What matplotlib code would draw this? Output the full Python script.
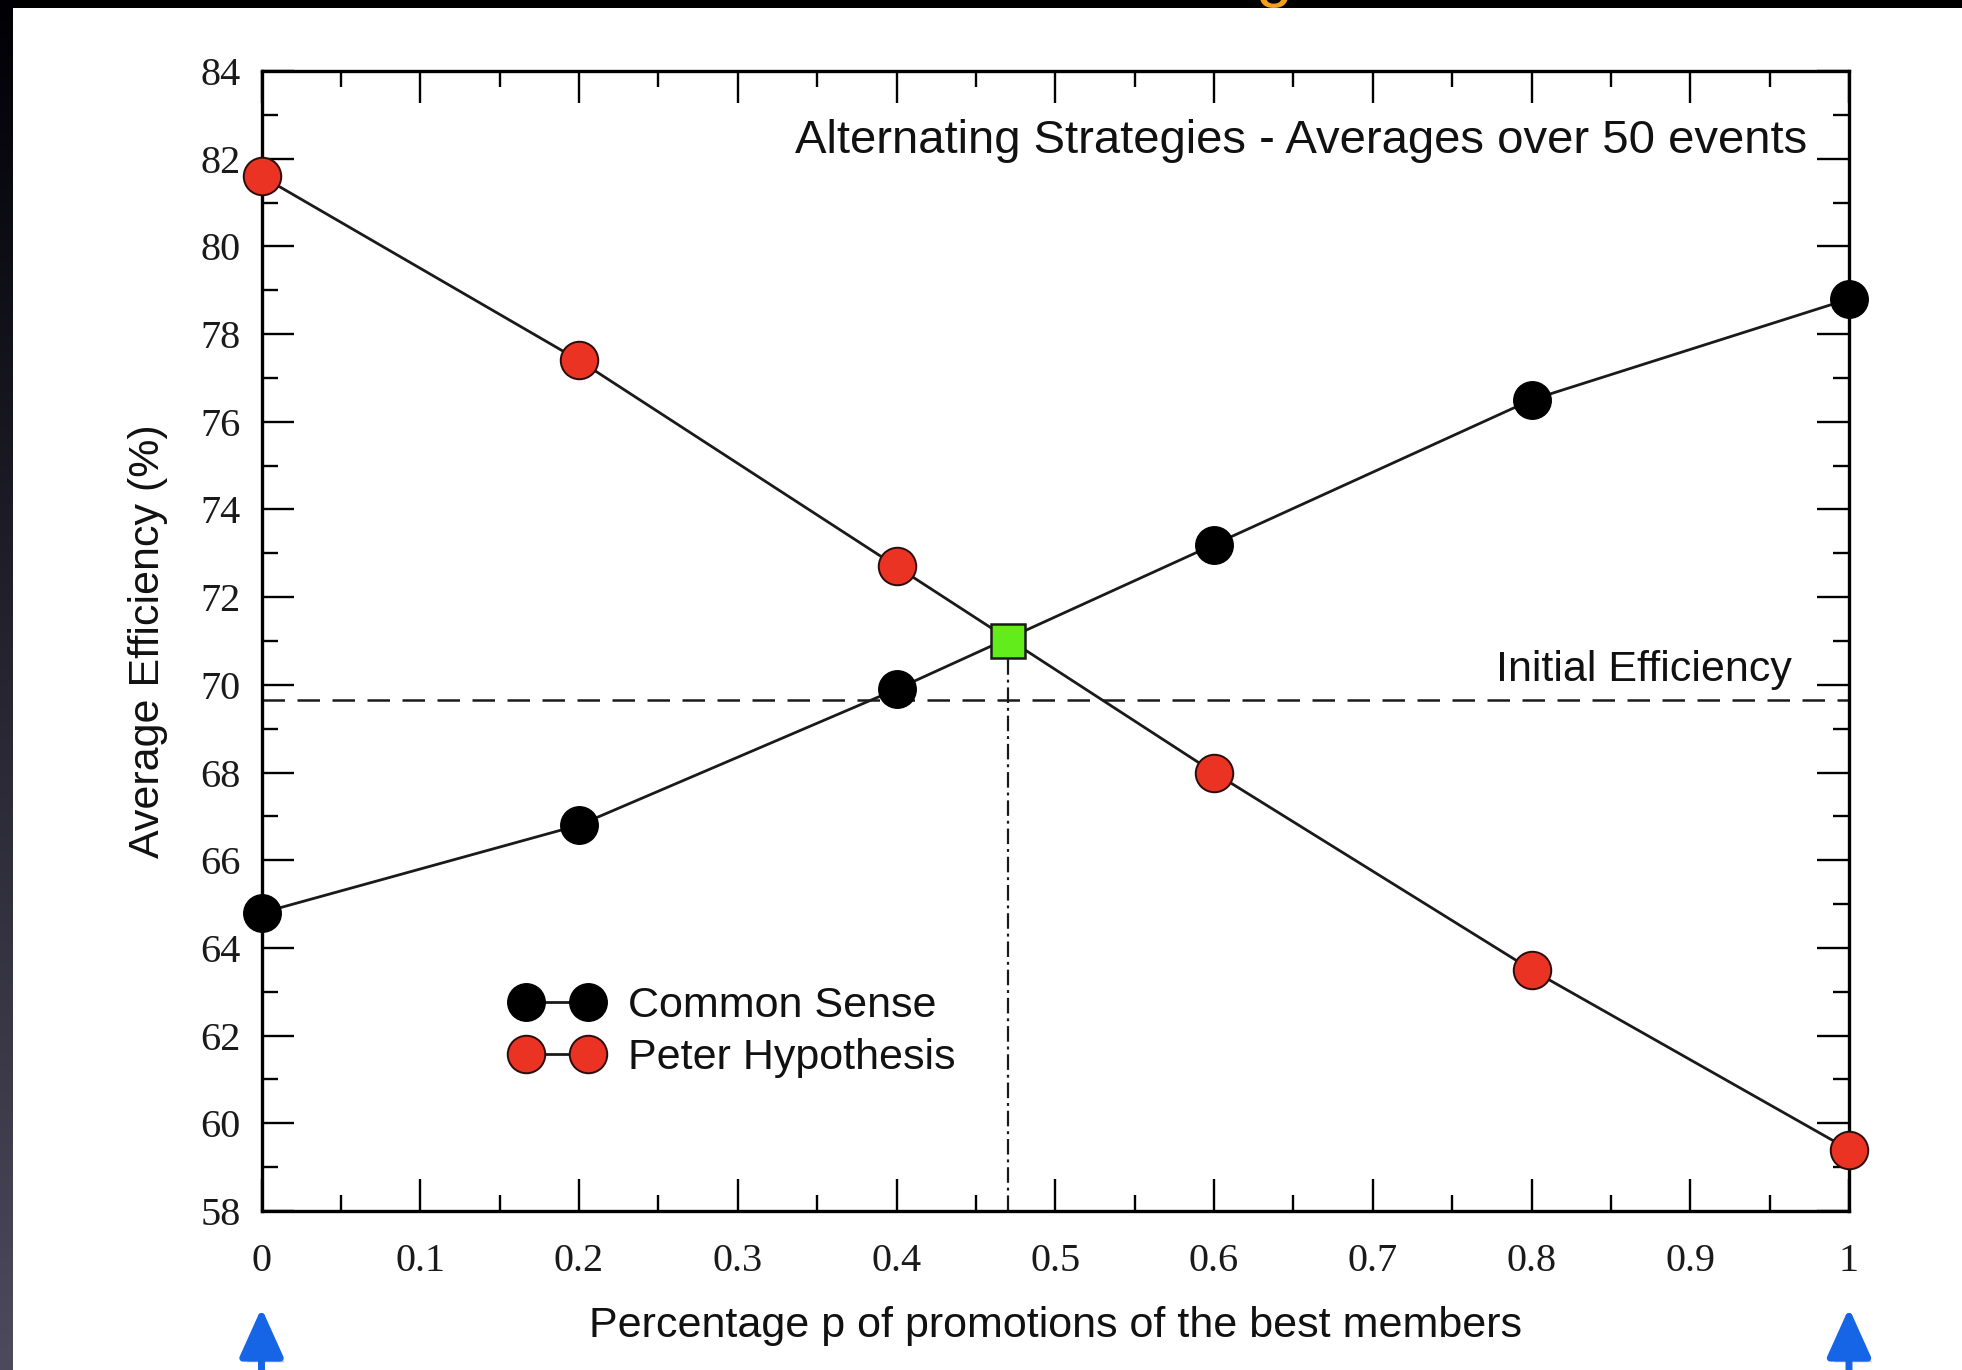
import numpy as np
import matplotlib
matplotlib.use("Agg")
import matplotlib.pyplot as plt
import matplotlib.patheffects as pe
from matplotlib.ticker import MultipleLocator, FixedLocator, FixedFormatter

# ---------------- data ----------------
p_values = [0.0, 0.2, 0.4, 0.6, 0.8, 1.0]
common_sense = [64.8, 66.8, 69.9, 73.2, 76.5, 78.8]
peter_hypothesis = [81.6, 77.4, 72.7, 68.0, 63.5, 59.4]
initial_efficiency = 69.65
crossing_p = 0.47
crossing_eff = 71.0
x_ticks = [0.0, 0.1, 0.2, 0.3, 0.4, 0.5, 0.6, 0.7, 0.8, 0.9, 1.0]
x_tick_labels = ["0", "0.1", "0.2", "0.3", "0.4", "0.5", "0.6", "0.7", "0.8", "0.9", "1"]
y_ticks = [58, 60, 62, 64, 66, 68, 70, 72, 74, 76, 78, 80, 82, 84]
y_tick_labels = [str(v) for v in y_ticks]
arrow_positions = [0.0, 1.0]

W, H = 1962, 1370
fig = plt.figure(figsize=(W / 100, H / 100), dpi=100)
fig.patch.set_facecolor("white")

SANS = ["Liberation Sans", "DejaVu Sans"]
SERIF = ["Liberation Serif", "DejaVu Serif"]

# slide decorations: dark top band and left gradient strip
top_ax = fig.add_axes([0, 1 - 8 / H, 1, 8 / H])
top_ax.set_axis_off()
top_ax.add_patch(plt.Rectangle((0, 0), 1, 1, color="black", transform=top_ax.transAxes))

left_ax = fig.add_axes([0, 0, 13 / W, 1])
grad = np.linspace(0, 1, 256)[:, None]
c_top = np.array([0.0, 0.0, 0.02])
c_bot = np.array([0.30, 0.29, 0.36])
img = c_top[None, None, :] * (1 - grad[:, :, None]) + c_bot[None, None, :] * grad[:, :, None]
left_ax.imshow(img, aspect="auto", extent=[0, 1, 0, 1], origin="upper")
left_ax.set_axis_off()

fig.text(1274 / W, 1 + 6 / H, "g", color="#f2a01a", fontsize=48, family=SANS,
         ha="center", va="baseline", zorder=10)

# ---------------- main axes ----------------
ax = fig.add_axes([261.5 / W, 1 - 1211 / H, (1849 - 261.5) / W, (1211 - 71) / H])
ax.set_xlim(0, 1)
ax.set_ylim(58, 84)

LW = 2.0
cs_handle, = ax.plot(p_values, common_sense, color="#1a1a1a", lw=LW, marker="o",
                     markersize=27, markerfacecolor="black", markeredgecolor="black",
                     markeredgewidth=1.0, linestyle="-", zorder=5, clip_on=False,
                     label="Common Sense")
ph_handle, = ax.plot(p_values, peter_hypothesis, color="#1a1a1a", lw=LW, marker="o",
                     markersize=27, markerfacecolor="#ea3323", markeredgecolor="#2a0c0c",
                     markeredgewidth=1.4, linestyle="-", zorder=5, clip_on=False,
                     label="Peter Hypothesis")

# initial efficiency dashed line
hl, = ax.plot([0, 1], [initial_efficiency, initial_efficiency], color="#1a1a1a", lw=1.8, zorder=2)
hl.set_dashes((9, 5))

# dash-dot vertical at crossing
vl, = ax.plot([crossing_p, crossing_p], [58, crossing_eff], color="#1a1a1a", lw=1.6, zorder=2)
vl.set_dashes((7, 2.2, 1.3, 2.2))

ax.plot([crossing_p], [crossing_eff], marker="s", markersize=25, markerfacecolor="#62ec1c",
        markeredgecolor="#1a1a1a", markeredgewidth=1.8, zorder=6, linestyle="none")

ax.text(0.974, 82.4, "Alternating Strategies - Averages over 50 events", ha="right",
        va="center", fontsize=34, family=SANS, color="#111111")
ax.text(0.964, 70.34, "Initial Efficiency", ha="right", va="center", fontsize=31,
        family=SANS, color="#111111")

# ticks
ax.xaxis.set_major_locator(FixedLocator(x_ticks))
ax.xaxis.set_major_formatter(FixedFormatter(x_tick_labels))
ax.xaxis.set_minor_locator(MultipleLocator(0.05))
ax.yaxis.set_major_locator(FixedLocator(y_ticks))
ax.yaxis.set_major_formatter(FixedFormatter(y_tick_labels))
ax.yaxis.set_minor_locator(MultipleLocator(1))
ax.tick_params(which="both", direction="in", top=True, right=True, width=1.7, colors="black")
ax.tick_params(which="major", length=23)
ax.tick_params(which="minor", length=11.5)
ax.tick_params(axis="x", which="major", pad=23, labelsize=29)
ax.tick_params(axis="y", which="major", pad=15, labelsize=29)
for lab in ax.get_xticklabels() + ax.get_yticklabels():
    lab.set_family(SERIF)
    lab.set_color("#1a1a1a")
for s in ax.spines.values():
    s.set_linewidth(2.4)
    s.set_color("black")

ax.set_xlabel("Percentage p of promotions of the best members", fontsize=31, family=SANS,
              va="center", color="#111111")
ax.xaxis.set_label_coords(0.5, -0.1009)
ax.set_ylabel("Average Efficiency (%)", fontsize=31, family=SANS, va="center", color="#111111")
ax.yaxis.set_label_coords(-0.0715, 0.5)

leg = ax.legend(handles=[cs_handle, ph_handle], loc="center left",
                bbox_to_anchor=(513 / W, 1 - 1032 / H), bbox_transform=fig.transFigure,
                frameon=False, numpoints=2, handlelength=2.04, handletextpad=0.62,
                labelspacing=0.28, borderpad=0, borderaxespad=0,
                prop={"family": SANS, "size": 31})
for t in leg.get_texts():
    t.set_color("#111111")

# blue arrows below axis
for xp in arrow_positions:
    ax.annotate("", xy=(xp, 1 - 1308 / H), xycoords=("data", "figure fraction"),
                xytext=(xp, -0.02), textcoords=("data", "figure fraction"),
                arrowprops=dict(arrowstyle="-|>,head_length=1.0,head_width=0.45",
                                color="#1565e6", lw=5, mutation_scale=30,
                                shrinkA=0, shrinkB=0,
                                path_effects=[pe.SimplePatchShadow(offset=(3, -3), alpha=0.35,
                                                                   shadow_rgbFace="#555555"),
                                              pe.Normal()]),
                annotation_clip=False)

fig.savefig("out.png", dpi=100, facecolor="white")
